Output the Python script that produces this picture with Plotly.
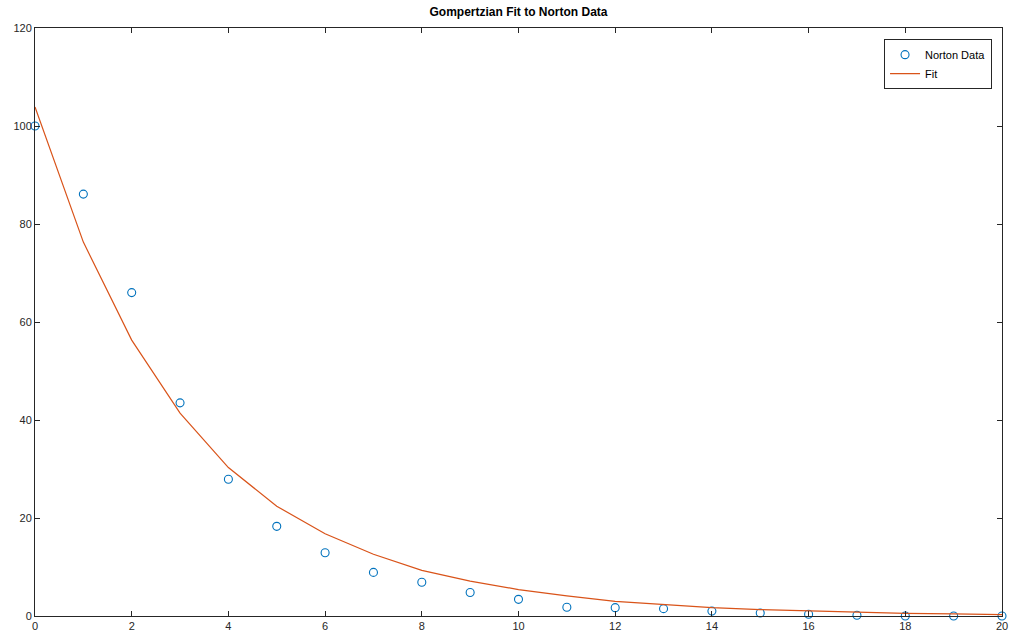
import plotly.graph_objects as go

days = list(range(0, 21))
norton_data = [100.0, 86.1, 66.0, 43.5, 27.9, 18.3, 12.9, 8.9, 6.9, 4.8,
               3.4, 1.8, 1.7, 1.5, 1.0, 0.6, 0.35, 0.15, 0.0, 0.0, 0.0]
fit_values = [103.9, 76.3, 56.3, 41.4, 30.3, 22.4, 16.8, 12.6, 9.3, 7.1,
              5.4, 4.1, 3.0, 2.3, 1.7, 1.3, 1.0, 0.75, 0.55, 0.42, 0.3]
x_ticks = list(range(0, 21, 2))
y_ticks = list(range(0, 121, 20))

fig = go.Figure()
fig.add_trace(go.Scatter(
    x=days, y=norton_data, mode="markers", name="Norton Data",
    marker=dict(symbol="circle-open", size=8, color="#0072BD", line=dict(width=1.1)),
    cliponaxis=False,
))
fig.add_trace(go.Scatter(
    x=days, y=fit_values, mode="lines", name="Fit",
    line=dict(color="#D95319", width=1.2),
    cliponaxis=False,
))

axis_common = dict(
    showgrid=False, zeroline=False, showline=True, linecolor="#262626", linewidth=1,
    mirror="ticks", ticks="inside", ticklen=5, tickcolor="#262626", automargin=False,
    tickfont=dict(family="Liberation Sans, Arial, sans-serif", size=11, color="#262626"),
)
fig.update_xaxes(range=[0, 20], tickvals=x_ticks, **axis_common)
fig.update_yaxes(range=[0, 120], tickvals=y_ticks, **axis_common)

fig.update_layout(
    width=1010, height=638,
    margin=dict(l=35, r=8, t=28, b=22),
    paper_bgcolor="white", plot_bgcolor="white",
    title=dict(text="<b>Gompertzian Fit to Norton Data</b>", x=0.5, xref="paper",
               y=0.988, yanchor="top",
               font=dict(family="Liberation Sans, Arial, sans-serif", size=12, color="black")),
    showlegend=True,
    legend=dict(x=0.9897, y=0.981, xanchor="right", yanchor="top",
                bgcolor="white", bordercolor="#262626", borderwidth=1,
                font=dict(family="Liberation Sans, Arial, sans-serif", size=11, color="black"),
                tracegroupgap=0, itemwidth=30),
)

fig.write_html("out.html",
               config={"displayModeBar": False},
               post_script="document.body.style.margin='0';document.body.style.overflow='hidden';")
